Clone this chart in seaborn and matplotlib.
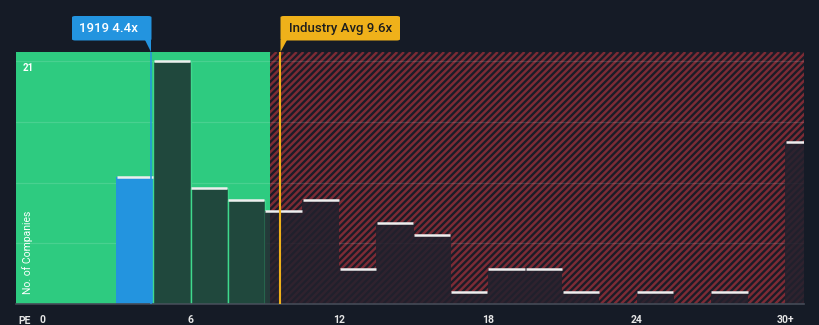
import matplotlib
matplotlib.use("Agg")
import matplotlib.pyplot as plt
from matplotlib.patches import Rectangle, Polygon, FancyBboxPatch
from matplotlib.collections import LineCollection
from matplotlib.transforms import IdentityTransform
import numpy as np
import pandas as pd
import seaborn as sns

# PE histogram data (bin width 1.5, last bin is 30+)
bin_edges = [0, 1.5, 3, 4.5, 6, 7.5, 9, 10.5, 12, 13.5, 15, 16.5, 18,
             19.5, 21, 22.5, 24, 25.5, 27, 28.5, 30, 31.5]
company_counts = [0, 0, 11, 21, 10, 9, 8, 9, 3, 7, 6, 1, 3, 3, 1, 0, 1, 0, 1, 0, 14]
tick_values = [0, 6, 12, 18, 24, 30]
tick_labels = ["0", "6", "12", "18", "24", "30+"]
company_name = "1919"
company_pe = 4.4
industry_pe = 9.6
fair_zone_end = 9.2
y_top_label = 21

W, H = 820, 325
BG = "#151b26"
GREEN = "#2ecb80"
BLUE = "#2394df"
GOLD = "#efb11a"
STRIPE = "#7c2b35"

sns.set_theme(style="dark")
plt.rcParams["font.family"] = ["Roboto", "DejaVu Sans"]

fig = plt.figure(figsize=(W / 100, H / 100), dpi=100, facecolor=BG)
ax_left, ax_right, ax_bottom, ax_top = 16, 804, H - 304, H - 52
ax = fig.add_axes([ax_left / W, ax_bottom / H, (ax_right - ax_left) / W,
                   (ax_top - ax_bottom) / H])
ax.set_facecolor(BG)

xmin, xmax = -1.05, 30.76
ymax = 21.78
ax.set_xlim(xmin, xmax)
ax.set_ylim(0, ymax)

# background zones: fair value (green) and striped (red)
ax.add_patch(Rectangle((xmin, 0), fair_zone_end - xmin, ymax, facecolor=GREEN,
                       edgecolor="none", zorder=0))
red_zone = Rectangle((fair_zone_end, 0), xmax - fair_zone_end, ymax,
                     facecolor="#1b1c27", edgecolor="none", zorder=0)
ax.add_patch(red_zone)

# diagonal stripes, laid out in pixel space
zone_px0 = ax_left + (fair_zone_end - xmin) / (xmax - xmin) * (ax_right - ax_left)
period = 6.7
h = ax_top - ax_bottom
segs = []
c = zone_px0 - h - period
while c < ax_right + period:
    segs.append([(c, ax_bottom), (c + h, ax_top)])
    c += period
stripes = LineCollection(segs, colors=STRIPE, linewidths=1.75,
                         transform=IdentityTransform(), zorder=0.5)
ax.add_collection(stripes)
stripes.set_clip_path(red_zone)

# horizontal gridlines
for gy in [5.25, 10.5, 15.75, 21]:
    ax.axhline(gy, color="white", alpha=0.13, lw=0.9, zorder=1)

centers = [(a + b) / 2 for a, b in zip(bin_edges[:-1], bin_edges[1:])]
df = pd.DataFrame({"pe": centers, "count": company_counts})
sns.histplot(data=df, x="pe", weights="count", bins=bin_edges, ax=ax,
             element="bars", fill=True, zorder=2)

for patch in ax.patches:
    if not isinstance(patch, Rectangle) or patch.get_zorder() != 2:
        continue
    x0 = patch.get_x()
    x1 = x0 + patch.get_width()
    if x0 < company_pe <= x1 + 0.2:
        patch.set_facecolor(BLUE)
        patch.set_edgecolor("none")
        patch.set_alpha(1)
    elif x1 <= fair_zone_end:
        patch.set_facecolor("#20483d")
        patch.set_edgecolor("#3fd98d")
        patch.set_linewidth(1.0)
        patch.set_alpha(1)
    else:
        patch.set_facecolor("#22212d")
        patch.set_edgecolor("none")
        patch.set_alpha(0.85)

# white caps on top of each non-empty bar
for a, b, cnt in zip(bin_edges[:-1], bin_edges[1:], company_counts):
    if cnt > 0:
        ax.hlines(cnt, a + 0.02, b - 0.02, color="#eeeeee", lw=1.8, zorder=4)

# marker lines
ax.axvline(company_pe, color=BLUE, lw=1.1, zorder=5)
ax.axvline(industry_pe, color=GOLD, lw=1.5, zorder=5)

# axes styling
for s in ["top", "right", "left"]:
    ax.spines[s].set_visible(False)
ax.spines["bottom"].set_color("#454b57")
ax.spines["bottom"].set_linewidth(1.2)
ax.set_yticks([])
ax.set_xticks(np.arange(0, 30.1, 1.5), minor=True)
ax.set_xticks(tick_values)
ax.set_xticklabels(tick_labels)
ax.tick_params(axis="x", which="both", direction="out", length=4, width=1,
               color="#454b57", pad=4.2, labelsize=7.5, labelcolor="#e6e6e6")
for lbl in ax.get_xticklabels():
    lbl.set_fontweight("bold")
ax.set_xlabel("")
ax.set_ylabel("")
ax.grid(False)

def fx(px):
    return px / W

def fy(py):
    return 1 - py / H

fig.text(fx(18), fy(320.5), "PE", color="#e6e6e6", fontsize=7.5,
         fontweight="bold", va="center", ha="left")
ax.text(-0.8, y_top_label - 0.6, str(y_top_label), color="white", fontsize=7,
        fontweight="bold", va="center", ha="left", zorder=6)
fig.text(fx(28), fy(252), "No. of Companies", rotation=90, color="white",
         fontsize=7.5, va="center", ha="center")

# callout boxes
def callout(x0, x1, y0, y1, tail, color, text, tcolor, tx):
    box = FancyBboxPatch((fx(x0), fy(y1)), fx(x1 - x0), (y1 - y0) / H,
                         boxstyle="round,pad=0,rounding_size=0.004",
                         transform=fig.transFigure, facecolor=color,
                         edgecolor="none", zorder=10)
    fig.add_artist(box)
    tri = Polygon([(fx(px), fy(py)) for px, py in tail], closed=True,
                  transform=fig.transFigure, facecolor=color, edgecolor="none",
                  zorder=10)
    fig.add_artist(tri)
    fig.text(fx(tx), fy((y0 + y1) / 2 + 0.5), text, color=tcolor, fontsize=9.5,
             fontweight="medium", va="center", ha="left", zorder=11)

callout(72, 151.5, 16, 40.5, [(145, 40), (151.5, 40), (151.5, 52)], BLUE,
        f"{company_name} {company_pe}x", "white", 79)
callout(280.5, 400, 16, 40.5, [(280.5, 40), (287, 40), (280.5, 52)], GOLD,
        f"Industry Avg {industry_pe}x", "#1d1d1d", 289)

fig.savefig("out.png", dpi=100, facecolor=BG)
